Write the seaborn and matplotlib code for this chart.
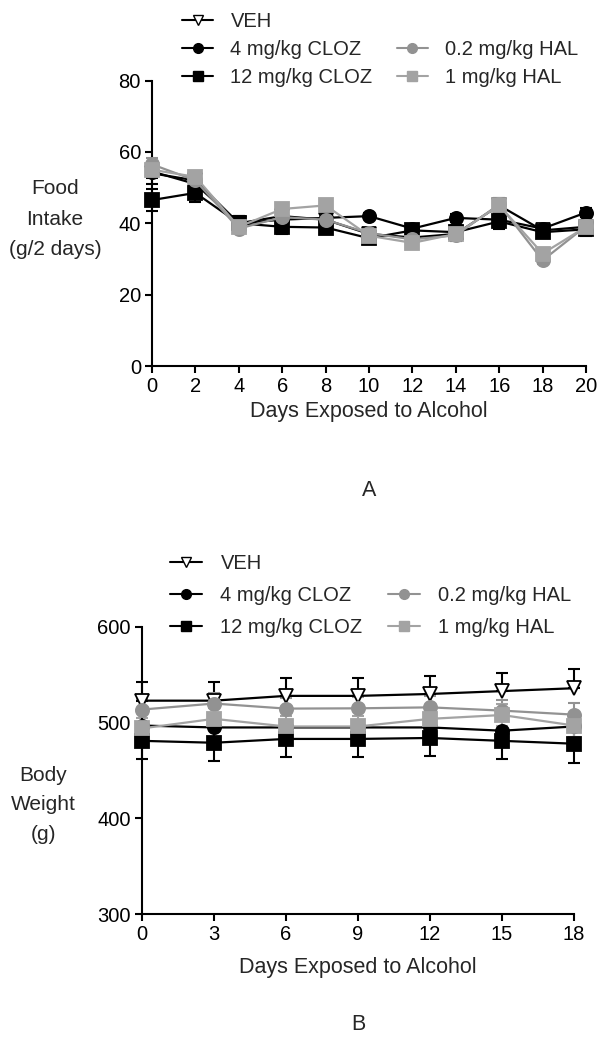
import matplotlib
matplotlib.use("Agg")
import matplotlib.pyplot as plt
from matplotlib.lines import Line2D
import numpy as np
import pandas as pd
import seaborn as sns

sns.set_theme(style="ticks")
plt.rcParams['font.family'] = ['Liberation Sans', 'DejaVu Sans']

groups = ["VEH", "4 mg/kg CLOZ", "12 mg/kg CLOZ", "0.2 mg/kg HAL", "1 mg/kg HAL"]

# panel A: food intake (g/2 days)
days_a = [0, 2, 4, 6, 8, 10, 12, 14, 16, 18, 20]
food_veh = [54, 52, 40, 42, 41, 37, 36, 37, 45, 38, 39]
food_cloz4 = [54.5, 51, 40, 41, 41.5, 42, 38.5, 41.5, 41, 38.5, 43]
food_cloz12 = [46.5, 48.5, 40, 39, 38.8, 35.8, 38, 37.5, 40.5, 37.5, 38.3]
food_hal02 = [56.5, 52, 38.5, 41.7, 41, 37.2, 35.5, 36.6, 45.3, 29.6, 39.2]
food_hal1 = [55, 53, 39, 44, 45, 36.5, 34.5, 37, 45, 31.5, 39]
food_sem = [3, 2.5, 2, 2, 1.5, 1.5, 1.5, 2, 2, 1.5, 2]

# panel B: body weight (g)
days_b = [0, 3, 6, 9, 12, 15, 18]
bw_veh = [523, 523, 528, 528, 530, 533, 536]
bw_cloz4 = [497, 495, 495, 495, 495, 491.6, 496]
bw_cloz12 = [481, 479, 483, 483, 484, 481, 478]
bw_hal02 = [513.7, 520, 514.7, 515, 516, 512.6, 508.4]
bw_hal1 = [494, 504, 496, 496, 504, 508, 497]
bw_sem = [19, 19, 19, 19, 19, 19, 20]

FS = 14.5

styles = {
    "VEH": dict(color="black", marker="v", mfc="white", mec="black"),
    "4 mg/kg CLOZ": dict(color="black", marker="o", mfc="black", mec="black"),
    "12 mg/kg CLOZ": dict(color="black", marker="s", mfc="black", mec="black"),
    "0.2 mg/kg HAL": dict(color="#929292", marker="o", mfc="#929292", mec="#929292"),
    "1 mg/kg HAL": dict(color="#a3a3a3", marker="s", mfc="#a3a3a3", mec="#a3a3a3"),
}

df_a = pd.DataFrame({"day": days_a * 5,
                     "value": food_veh + food_cloz4 + food_cloz12 + food_hal02 + food_hal1,
                     "group": np.repeat(groups, len(days_a))})
df_b = pd.DataFrame({"day": days_b * 5,
                     "value": bw_veh + bw_cloz4 + bw_cloz12 + bw_hal02 + bw_hal1,
                     "group": np.repeat(groups, len(days_b))})

fig = plt.figure(figsize=(6.05, 10.5), dpi=100)
ax_a = fig.add_axes([152 / 605, 1 - 366 / 1050, 434 / 605, 285.5 / 1050])
ax_b = fig.add_axes([142 / 605, 1 - 914 / 1050, 432 / 605, 287 / 1050])


def draw(ax, df, sem, errdir):
    for g in groups:
        sub = df[df["group"] == g]
        st = styles[g]
        up, down = errdir[g]
        s = np.array(sem) * (0.6 if g in ("0.2 mg/kg HAL", "1 mg/kg HAL", "4 mg/kg CLOZ") else 1.0)
        ax.errorbar(sub["day"], sub["value"], yerr=[s * down, s * up], fmt="none",
                    ecolor=st["color"], elinewidth=1.5, capsize=4, capthick=1.5, clip_on=False, zorder=2)
        sns.lineplot(data=sub, x="day", y="value", ax=ax, color=st["color"], marker=st["marker"],
                     markerfacecolor=st["mfc"], markeredgecolor=st["mec"], markeredgewidth=1.3,
                     markersize=9.5, linewidth=1.6, clip_on=False, zorder=3, legend=False)


err_a = {g: (1, 1) for g in groups}
draw(ax_a, df_a, food_sem, err_a)
err_b = {"VEH": (1, 0), "4 mg/kg CLOZ": (0, 1), "12 mg/kg CLOZ": (0, 1),
         "0.2 mg/kg HAL": (1, 0), "1 mg/kg HAL": (1, 1)}
draw(ax_b, df_b, bw_sem, err_b)

for ax in (ax_a, ax_b):
    sns.despine(ax=ax)
    for sp in ("left", "bottom"):
        ax.spines[sp].set_linewidth(1.5)
        ax.spines[sp].set_color("black")
    ax.tick_params(width=1.5, length=5, labelsize=FS, colors="black", direction="out", pad=3)
    ax.set_xlabel("Days Exposed to Alcohol", fontsize=15.5, va="center")
    ax.set_ylabel("")

ax_a.set_xlim(0, 20)
ax_a.set_xticks(days_a)
ax_a.set_ylim(0, 80)
ax_a.set_yticks([0, 20, 40, 60, 80])
ax_b.set_xlim(0, 18)
ax_b.set_xticks(days_b)
ax_b.set_ylim(300, 600)
ax_b.set_yticks([300, 400, 500, 600])
ax_a.xaxis.set_label_coords(0.5, (366 - 412) / 285.5)
ax_b.xaxis.set_label_coords(0.5, (914 - 968) / 287)

fig.text(55 / 605, 1 - 219 / 1050, "Food\nIntake\n(g/2 days)", ha="center", va="center",
         fontsize=15, linespacing=1.78)
fig.text(43 / 605, 1 - 805 / 1050, "Body\nWeight\n(g)", ha="center", va="center",
         fontsize=15, linespacing=1.67)
fig.text(369 / 605, 1 - 490 / 1050, "A", ha="center", va="center", fontsize=15.5)
fig.text(358 / 605, 1 - 1025 / 1050, "B", ha="center", va="center", fontsize=15.5)


def handles():
    hs = []
    for g in groups:
        st = styles[g]
        hs.append(Line2D([], [], color=st["color"], marker=st["marker"], mfc=st["mfc"], mec=st["mec"],
                         markersize=7, linewidth=1.5))
    blank = Line2D([], [], color="none")
    return [hs[0], hs[1], hs[2], blank, hs[3], hs[4]], [groups[0], groups[1], groups[2], "", groups[3], groups[4]]


h, l = handles()
fig.legend(h, l, ncol=2, loc="upper left", bbox_to_anchor=(164 / 605, 1 + 6 / 1050), frameon=False,
           fontsize=FS, handlelength=1.55, handletextpad=0.85, columnspacing=1.2, labelspacing=0.45)
h, l = handles()
fig.legend(h, l, ncol=2, loc="upper left", bbox_to_anchor=(152 / 605, 1 - 536 / 1050), frameon=False,
           fontsize=FS, handlelength=1.6, handletextpad=0.9, columnspacing=1.25, labelspacing=0.65)

fig.savefig("out.png", dpi=100)
